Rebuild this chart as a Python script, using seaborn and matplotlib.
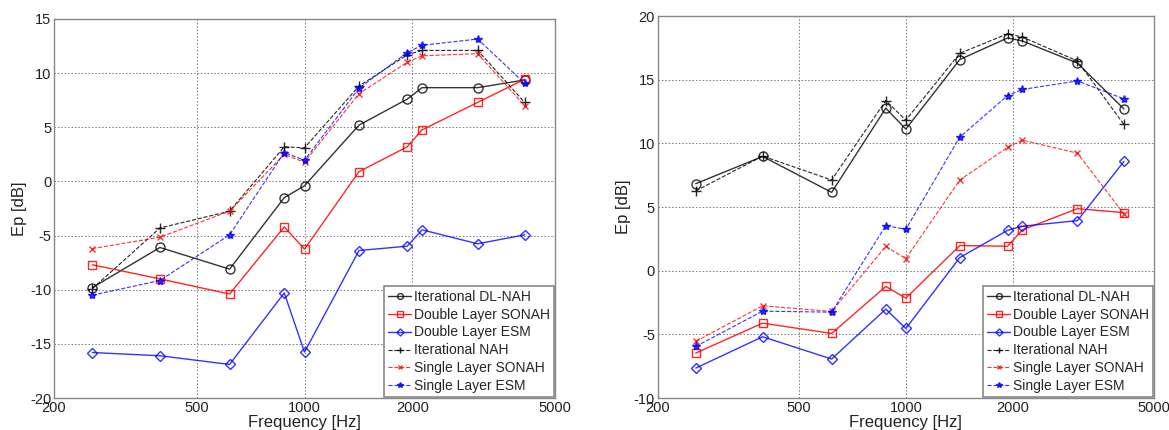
import numpy as np
import pandas as pd
import matplotlib
matplotlib.use("Agg")
import matplotlib.pyplot as plt
from matplotlib.ticker import FixedLocator, NullLocator, FixedFormatter
import seaborn as sns

# ---------------- data ----------------
freq = [256, 395, 618, 878, 1000, 1419, 1935, 2128, 3043, 4114]

series_names = ["Iterational DL-NAH", "Double Layer SONAH", "Double Layer ESM",
                "Iterational NAH", "Single Layer SONAH", "Single Layer ESM"]

# Left panel
left_it_dl_nah = [-9.8, -6.1, -8.1, -1.5, -0.4, 5.2, 7.6, 8.66, 8.66, 9.37]
left_dl_sonah = [-7.7, -9.0, -10.4, -4.2, -6.25, 0.9, 3.2, 4.76, 7.3, 9.43]
left_dl_esm = [-15.8, -16.1, -16.9, -10.3, -15.76, -6.38, -5.98, -4.47, -5.76, -4.93]
left_it_nah = [-9.9, -4.3, -2.75, 3.2, 3.1, 8.8, 11.7, 12.1, 12.1, 7.3]
left_sl_sonah = [-6.2, -5.15, -2.75, 2.5, 1.77, 8.1, 11.0, 11.6, 11.8, 7.0]
left_sl_esm = [-10.5, -9.15, -4.93, 2.67, 1.96, 8.6, 11.9, 12.57, 13.15, 9.06]

# Right panel
right_it_dl_nah = [6.83, 8.97, 6.15, 12.76, 11.12, 16.58, 18.28, 18.04, 16.3, 12.7]
right_dl_sonah = [-6.47, -4.12, -4.93, -1.24, -2.16, 1.97, 1.92, 3.2, 4.87, 4.56]
right_dl_esm = [-7.65, -5.19, -6.94, -3.02, -4.54, 1.03, 3.17, 3.49, 3.93, 8.58]
right_it_nah = [6.26, 9.0, 7.12, 13.36, 11.82, 17.07, 18.6, 18.35, 16.47, 11.48]
right_sl_sonah = [-5.55, -2.76, -3.2, 1.9, 0.95, 7.12, 9.68, 10.25, 9.23, 4.45]
right_sl_esm = [-5.95, -3.18, -3.26, 3.54, 3.25, 10.49, 13.75, 14.23, 14.9, 13.49]

xticks = [200, 500, 1000, 2000, 5000]
xticklabels = ["200", "500", "1000", "2000", "5000"]
left_yticks = [-20, -15, -10, -5, 0, 5, 10, 15]
right_yticks = [-10, -5, 0, 5, 10, 15, 20]

# ---------------- styles ----------------
styles = [
    dict(color="#000000", marker="o", linestyle="-", mfc="none", ms=6.5, lw=1.0, alpha=0.8),
    dict(color="#ff0000", marker="s", linestyle="-", mfc="none", ms=6.0, lw=1.0, alpha=0.85),
    dict(color="#0000ff", marker="D", linestyle="-", mfc="none", ms=5.5, lw=1.0, alpha=0.8),
    dict(color="#000000", marker="+", linestyle="--", mfc="none", ms=7.0, lw=0.8, alpha=0.85),
    dict(color="#ff0000", marker="x", linestyle="--", mfc="none", ms=5.0, lw=0.8, alpha=0.8),
    dict(color="#0000ff", marker="*", linestyle="--", mfc="#0000ff", ms=6.0, lw=0.8, alpha=0.8),
]

sns.set_style("white")
plt.rcParams["font.family"] = ["Liberation Sans", "DejaVu Sans"]

fig = plt.figure(figsize=(11.69, 4.30), dpi=100)
axL = fig.add_axes([54 / 1169, 1 - 398 / 430, (555 - 54) / 1169, (398 - 19) / 430])
axR = fig.add_axes([657.7 / 1169, 1 - 398 / 430, (1154 - 657.7) / 1169, (398 - 16) / 430])

panels = [
    (axL, [left_it_dl_nah, left_dl_sonah, left_dl_esm, left_it_nah, left_sl_sonah, left_sl_esm],
     left_yticks),
    (axR, [right_it_dl_nah, right_dl_sonah, right_dl_esm, right_it_nah, right_sl_sonah, right_sl_esm],
     right_yticks),
]

for ax, data, yt in panels:
    for name, vals, st in zip(series_names, data, styles):
        df = pd.DataFrame({"f": freq, "v": vals})
        sns.lineplot(data=df, x="f", y="v", ax=ax, label=name, color=st["color"],
                     marker=st["marker"], linestyle=st["linestyle"], markerfacecolor=st["mfc"],
                     markeredgecolor=st["color"], markersize=st["ms"], linewidth=st["lw"],
                     alpha=st["alpha"], markeredgewidth=1.0, sort=False, estimator=None)
    ax.set_xscale("log")
    ax.set_xlim(200, 5000)
    ax.set_ylim(yt[0], yt[-1])
    ax.xaxis.set_major_locator(FixedLocator(xticks))
    ax.xaxis.set_major_formatter(FixedFormatter(xticklabels))
    ax.xaxis.set_minor_locator(NullLocator())
    ax.set_yticks(yt)
    ax.set_yticklabels([str(v) for v in yt])
    ax.grid(True, which="major", linestyle=(0, (1.5, 2)), color="#555555", linewidth=0.7, alpha=0.8)
    ax.tick_params(axis="both", which="both", direction="in", length=4, labelsize=10.5,
                   color="#666666", labelcolor="#222222", pad=2)
    for sp in ax.spines.values():
        sp.set_color("#888888")
        sp.set_linewidth(1.0)
    ax.set_xlabel("Frequency [Hz]", fontsize=12, color="#222222", labelpad=0)
    ax.set_ylabel("Ep [dB]", fontsize=12, color="#222222", labelpad=2)
    leg = ax.legend(loc="lower right", fontsize=10, frameon=True, fancybox=False,
                    borderpad=0.25, labelspacing=0.28, handlelength=1.7, handletextpad=0.2,
                    borderaxespad=0.1, markerscale=0.65)
    leg.get_frame().set_edgecolor("#888888")
    leg.get_frame().set_linewidth(1.2)
    leg.get_frame().set_alpha(1.0)

fig.savefig("out.png", dpi=100)
